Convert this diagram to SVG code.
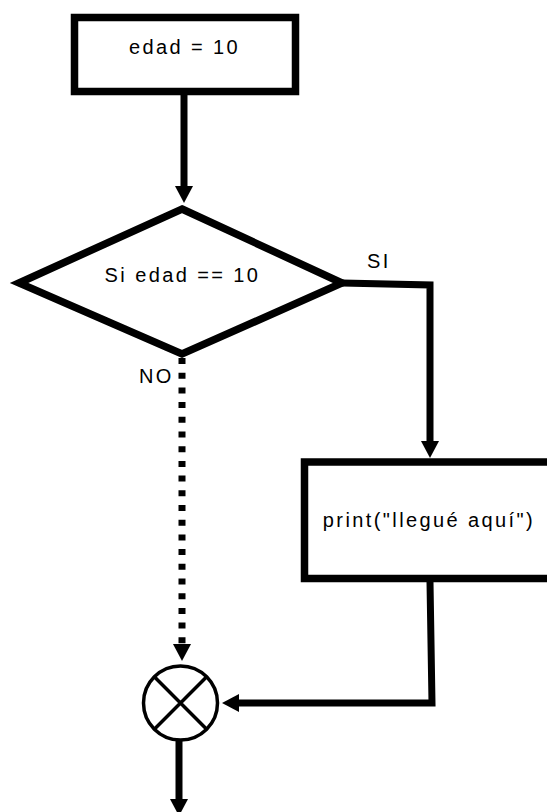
<svg xmlns="http://www.w3.org/2000/svg" width="547" height="812" viewBox="0 0 547 812">
<style>
.box{fill:#fff;stroke:#000;stroke-width:7.5;stroke-miterlimit:10}
.lbl{font-family:"Liberation Sans",Arial,sans-serif;font-size:20px;letter-spacing:2.4px;fill:#000}
.conn{fill:none;stroke:#000;stroke-width:7}
.dot{stroke-dasharray:6 8.7}
</style>
<defs>
<marker id="arr" markerUnits="userSpaceOnUse" markerWidth="18" markerHeight="18" refX="0" refY="9" orient="auto" viewBox="0 0 17 18">
<path d="M0,0 L17,9 L0,18 z" fill="#000"/>
</marker>
</defs>
<rect width="547" height="812" fill="#fff"/>
<g id="connectors">
<path class="conn" d="M184,95 L184,186" marker-end="url(#arr)"/>
<path class="conn" d="M342,283 L430,285 L430,441" marker-end="url(#arr)"/>
<path class="conn dot" d="M182,358 L182,644" marker-end="url(#arr)"/>
<path class="conn" d="M430,582 L432,703 L239,703" marker-end="url(#arr)"/>
<path class="conn" d="M179,740 L179,799" marker-end="url(#arr)"/>
</g>
<g id="start">
<rect class="box" x="74.5" y="17.5" width="221" height="74"/>
<text class="lbl" x="184.5" y="54" text-anchor="middle">edad = 10</text>
</g>
<g id="decision">
<polygon class="box" points="182,209 342,283 182,354 19,283"/>
<text class="lbl" x="182.5" y="282" text-anchor="middle">Si edad == 10</text>
</g>
<g id="label-si">
<text class="lbl" x="367" y="268">SI</text>
</g>
<g id="label-no">
<text class="lbl" x="139" y="383">NO</text>
</g>
<g id="print">
<rect class="box" x="304.5" y="462" width="260" height="116.5"/>
<text class="lbl" x="429" y="527" text-anchor="middle">print("llegué aquí")</text>
</g>
<g id="merge">
<circle cx="180.5" cy="703" r="37" fill="#fff" stroke="#000" stroke-width="3.5"/>
<path d="M154.3,676.8 L206.7,729.2 M206.7,676.8 L154.3,729.2" stroke="#000" stroke-width="3.5"/>
</g>
</svg>
